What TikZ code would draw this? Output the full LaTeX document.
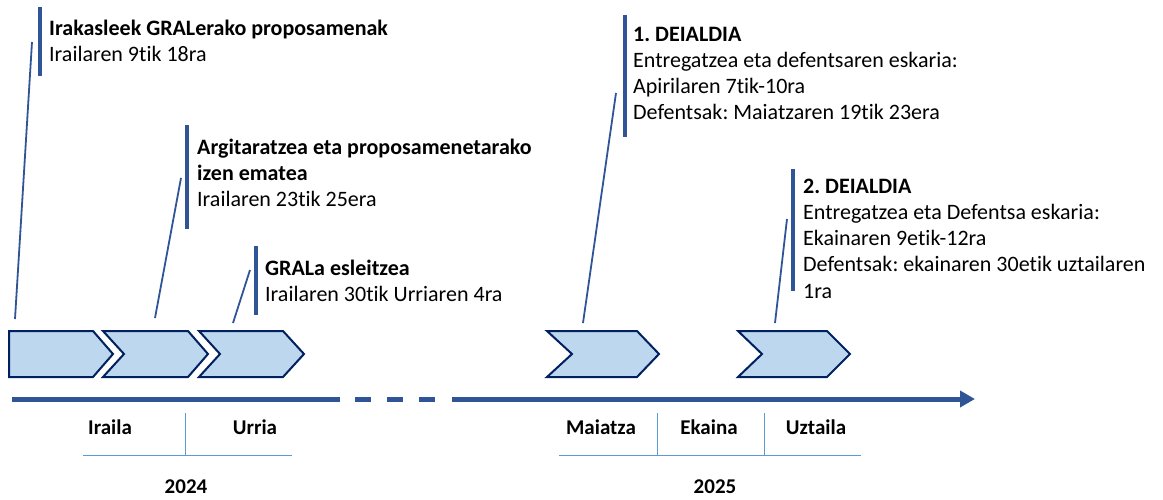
\documentclass[tikz,border=0pt]{standalone}
\usepackage{fontspec}
\setmainfont{Carlito}[Ligatures=NoCommon]
\usetikzlibrary{arrows.meta}
\definecolor{axisblue}{HTML}{2F5597}
\definecolor{chevline}{HTML}{002060}
\definecolor{chevfill}{HTML}{BDD7EE}
\definecolor{monthline}{HTML}{5B9BD5}
\frenchspacing

\begin{document}
\begin{tikzpicture}[x=1pt, y=-1pt, >=Triangle,
  chev/.style={draw=chevline, fill=chevfill, line width=2pt},
  bar/.style={axisblue, line width=3.5pt},
  leader/.style={axisblue, line width=1.8pt},
  callout/.style={anchor=base west, inner sep=0pt, align=left, font=\fontsize{22}{26.3}\selectfont},
  month/.style={inner sep=0pt, font=\fontsize{21}{25}\selectfont\bfseries},
  monthsep/.style={monthline, line width=1pt}]
\useasboundingbox (0,0) rectangle (1163,499);

% chevrons
\draw[chev] (9,331) -- (93,331) -- (113,354) -- (93,377) -- (9,377) -- cycle;
\draw[chev] (103,331) -- (188,331) -- (208,354) -- (188,377) -- (103,377) -- (124,354) -- cycle;
\draw[chev] (199,331) -- (283,331) -- (304,354) -- (283,377) -- (199,377) -- (220,354) -- cycle;
\draw[chev] (547,331) -- (637,331) -- (659,354) -- (637,377) -- (547,377) -- (572,354) -- cycle;
\draw[chev] (738,331) -- (827,331) -- (850,354) -- (827,377) -- (738,377) -- (762,354) -- cycle;

% time axis
\draw[axisblue, line width=5pt] (12,399) -- (340,399);
\foreach \x in {355,387,419}
  \draw[axisblue, line width=5pt] (\x,399) -- ++(16,0);
\draw[axisblue, line width=5pt, -{Triangle[length=15pt, width=16pt]}] (452,399) -- (975,399);

% months 2024
\node[month] (iraila) at (110,427) {Iraila};
\node[month] (urria) at (255,427) {Urria};
\draw[monthsep] (185,413) -- (185,455);
\draw[monthsep] (83,455) -- (292,455);
\node[month] (y2024) at (186,487) {2024};

% months 2025
\node[month] (maiatza) at (601,427) {Maiatza};
\node[month] (ekaina) at (709,427) {Ekaina};
\node[month] (uztaila) at (816,427) {Uztaila};
\draw[monthsep] (657,413) -- (657,455);
\draw[monthsep] (764,413) -- (764,455);
\draw[monthsep] (559,455) -- (861,455);
\node[month] (y2025) at (715,487) {2025};

% callouts (base = baseline of last line)
\node[callout] (prop) at (49,61.3) {\textbf{Irakasleek GRALerako proposamenak}\\Irailaren 9tik 18ra};
\draw[bar] (40,7) -- (40,76);
\coordinate (prop-a) at (15,319);
\coordinate (prop-b) at (32,42);
\draw[leader] (prop-a) -- (prop-b);

\node[callout] (argit) at (197,206.6) {\textbf{Argitaratzea eta proposamenetarako}\\\textbf{izen ematea}\\Irailaren 23tik 25era};
\draw[bar] (187,125) -- (187,229);
\coordinate (argit-a) at (155,318);
\coordinate (argit-b) at (181,178);
\draw[leader] (argit-a) -- (argit-b);

\node[callout] (esleit) at (265,301.3) {\textbf{GRALa esleitzea}\\Irailaren 30tik Urriaren 4ra};
\draw[bar] (256,246) -- (256,315);
\coordinate (esleit-a) at (233,323);
\coordinate (esleit-b) at (250,270);
\draw[leader] (esleit-a) -- (esleit-b);

\node[callout] (deia1) at (633,119.9) {\textbf{1. DEIALDIA}\\Entregatzea eta defentsaren eskaria:\\Apirilaren 7tik-10ra\\Defentsak: Maiatzaren 19tik 23era};
\draw[bar] (625,15) -- (625,137);
\coordinate (deia1-a) at (583,323);
\coordinate (deia1-b) at (616,93);
\draw[leader] (deia1-a) -- (deia1-b);

\node[callout] (deia2) at (803,298.2) {\textbf{2. DEIALDIA}\\Entregatzea eta Defentsa eskaria:\\Ekainaren 9etik-12ra\\Defentsak: ekainaren 30etik uztailaren\\1ra};
\draw[bar] (793,169) -- (793,291);
\coordinate (deia2-a) at (775,323);
\coordinate (deia2-b) at (787,219);
\draw[leader] (deia2-a) -- (deia2-b);
\end{tikzpicture}
\end{document}
